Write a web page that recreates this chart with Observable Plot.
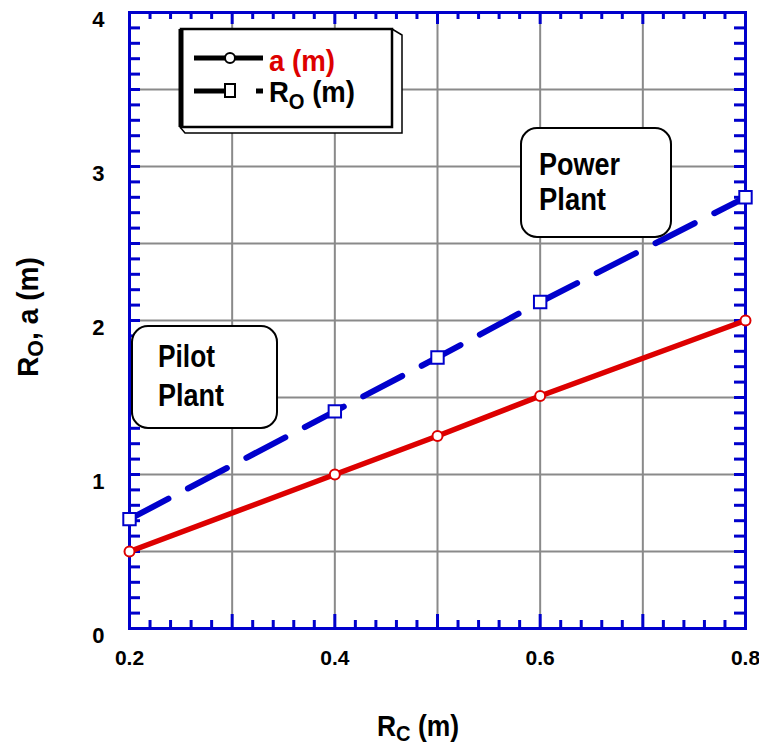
<!DOCTYPE html>
<html><head><meta charset="utf-8">
<script src="https://cdn.jsdelivr.net/npm/d3@7"></script>
<script src="https://cdn.jsdelivr.net/npm/@observablehq/plot@0.6"></script>
<style>
body{margin:0;background:#fff}
#chart{position:relative;width:759px;height:750px}
</style>
</head><body><div id="chart"></div>
<script>
// ---- data ----
const rc = [0.2, 0.4, 0.5, 0.6, 0.8];          // R_C (m)
const aVals = [0.5, 1.0, 1.25, 1.51, 2.0];      // a (m)
const roVals = [0.71, 1.41, 1.76, 2.12, 2.80];  // R_O (m)
const xTickLabels = [0.2, 0.4, 0.6, 0.8];
const yTickLabels = [0, 1, 2, 3, 4];
const xGrid = [0.3, 0.4, 0.5, 0.6, 0.7];
const yGrid = [0.5, 1, 1.5, 2, 2.5, 3, 3.5];
const xMinor = d3.range(11, 40).filter(i => i % 5 !== 0).map(i => i / 50);
const yMinor = d3.range(1, 40).map(i => i / 10);
const seriesNames = ["a (m)", "R_O (m)"];
const notes = [["Pilot", "Plant"], ["Power", "Plant"]];

const table = rc.map((x, i) => ({rc: x, a: aVals[i], ro: roVals[i]}));

const BLUE = "#0000cc", RED = "#dd0000", GRID = "#8a8a8a";
const FONT = "'Liberation Sans', Arial, Helvetica, sans-serif";
const W = 759, H = 750, mL = 129, mR = 14, mT = 12, mB = 122;
const innerH = H - mT - mB, innerW = W - mL - mR;

const plot = Plot.plot({
  width: W, height: H,
  marginLeft: mL, marginRight: mR, marginTop: mT, marginBottom: mB,
  style: {fontFamily: FONT, fontWeight: "bold", background: "white", color: "black", overflow: "visible"},
  x: {domain: [0.2, 0.8]},
  y: {domain: [0, 4]},
  marks: [
    Plot.ruleX(xGrid, {stroke: GRID, strokeWidth: 2}),
    Plot.ruleY(yGrid, {stroke: GRID, strokeWidth: 2}),
    Plot.ruleX(xMinor, {insetTop: innerH - 8, stroke: BLUE, strokeWidth: 3}),
    Plot.ruleX(xGrid, {insetTop: innerH - 14, stroke: BLUE, strokeWidth: 3}),
    Plot.ruleX(xMinor, {insetBottom: innerH - 7, stroke: BLUE, strokeWidth: 3}),
    Plot.ruleX(xGrid, {insetBottom: innerH - 12, stroke: BLUE, strokeWidth: 3}),
    Plot.ruleY(yMinor, {insetRight: innerW - 11, stroke: BLUE, strokeWidth: 3}),
    Plot.ruleY(yMinor, {insetLeft: innerW - 11, stroke: BLUE, strokeWidth: 3}),
    Plot.frame({stroke: BLUE, strokeWidth: 3}),
    Plot.axisX({ticks: xTickLabels, tickSize: 0, tickPadding: 22, tickFormat: d3.format(".1f"), fontSize: 21, fontWeight: "bold", label: null}),
    Plot.axisY({ticks: yTickLabels, tickSize: 0, tickPadding: 25, dy: 7, tickFormat: d3.format("d"), fontSize: 22, fontWeight: "bold", label: null}),
    Plot.line(table, {x: "rc", y: "a", stroke: RED, strokeWidth: 5.5}),
    Plot.line(table, {x: "rc", y: "ro", stroke: BLUE, strokeWidth: 6, strokeDasharray: "44,22"}),
    Plot.dot(table, {x: "rc", y: "a", r: 5, stroke: RED, fill: "white", strokeWidth: 2}),
    Plot.dot(table, {x: "rc", y: "ro", r: 7, symbol: "square", stroke: BLUE, fill: "white", strokeWidth: 2})
  ]
});
document.getElementById("chart").appendChild(plot);

const svg = d3.select(plot);
const txt = (sel) => sel.attr("font-family", FONT).attr("font-weight", "bold").attr("fill", "black");
const squeeze = (sel, len) => sel.attr("textLength", len).attr("lengthAdjust", "spacingAndGlyphs");

// axis titles
const xt = squeeze(txt(svg.append("text")).attr("x", 377).attr("y", 736).attr("text-anchor", "start").attr("font-size", 29), 82);
xt.append("tspan").text("R");
xt.append("tspan").attr("font-size", 22).attr("dy", 5).text("C");
xt.append("tspan").attr("dy", -5).text(" (m)");

const yt = squeeze(txt(svg.append("text")).attr("transform", "translate(38,377) rotate(-90)").attr("text-anchor", "start").attr("font-size", 29), 120);
yt.append("tspan").text("R");
yt.append("tspan").attr("font-size", 22).attr("dy", 5).text("O");
yt.append("tspan").attr("dy", -5).text(", a (m)");

// annotation boxes
const boxes = [
  {x: 132, y: 326, w: 145, h: 102, tx: 158, b: [367, 406], len: [57, 66]},
  {x: 521, y: 128, w: 150, h: 109, tx: 539, b: [175, 210], len: [81, 67]}
];
boxes.forEach((bx, i) => {
  svg.append("rect").attr("x", bx.x).attr("y", bx.y).attr("width", bx.w).attr("height", bx.h)
    .attr("rx", 16).attr("fill", "white").attr("stroke", "black").attr("stroke-width", 2);
  notes[i].forEach((t, j) => {
    squeeze(txt(svg.append("text")).attr("x", bx.tx).attr("y", bx.b[j]).attr("text-anchor", "start")
      .attr("font-size", 31), bx.len[j]).text(t);
  });
});

// legend
const lg = svg.append("g");
lg.append("path").attr("d", "M392,29 L402,35 L402,133 L185,133 L180,127")
  .attr("fill", "white").attr("stroke", "black").attr("stroke-width", 1.5);
lg.append("rect").attr("x", 181).attr("y", 29).attr("width", 211).attr("height", 98)
  .attr("fill", "white").attr("stroke", "black").attr("stroke-width", 2.5);
lg.append("line").attr("x1", 181).attr("x2", 181).attr("y1", 29).attr("y2", 127)
  .attr("stroke", "black").attr("stroke-width", 5);
// row 1
lg.append("line").attr("x1", 194).attr("x2", 263).attr("y1", 58).attr("y2", 58).attr("stroke", "black").attr("stroke-width", 5);
lg.append("circle").attr("cx", 230).attr("cy", 58).attr("r", 5).attr("fill", "white").attr("stroke", "black").attr("stroke-width", 2);
squeeze(txt(lg.append("text")).attr("x", 269).attr("y", 71).attr("text-anchor", "start").attr("font-size", 30)
  .attr("fill", RED), 66).text(seriesNames[0]);
// row 2
lg.append("line").attr("x1", 194).attr("x2", 226).attr("y1", 91).attr("y2", 91).attr("stroke", "black").attr("stroke-width", 5);
lg.append("rect").attr("x", 225).attr("y", 84).attr("width", 10).attr("height", 13).attr("fill", "white").attr("stroke", "black").attr("stroke-width", 2);
lg.append("line").attr("x1", 256).attr("x2", 263).attr("y1", 91).attr("y2", 91).attr("stroke", "black").attr("stroke-width", 5);
const l2 = squeeze(txt(lg.append("text")).attr("x", 269).attr("y", 102).attr("text-anchor", "start").attr("font-size", 30), 86);
l2.append("tspan").text("R");
l2.append("tspan").attr("font-size", 22).attr("dy", 7).text("O");
l2.append("tspan").attr("dy", -7).text(" (m)");
</script>
</body></html>
